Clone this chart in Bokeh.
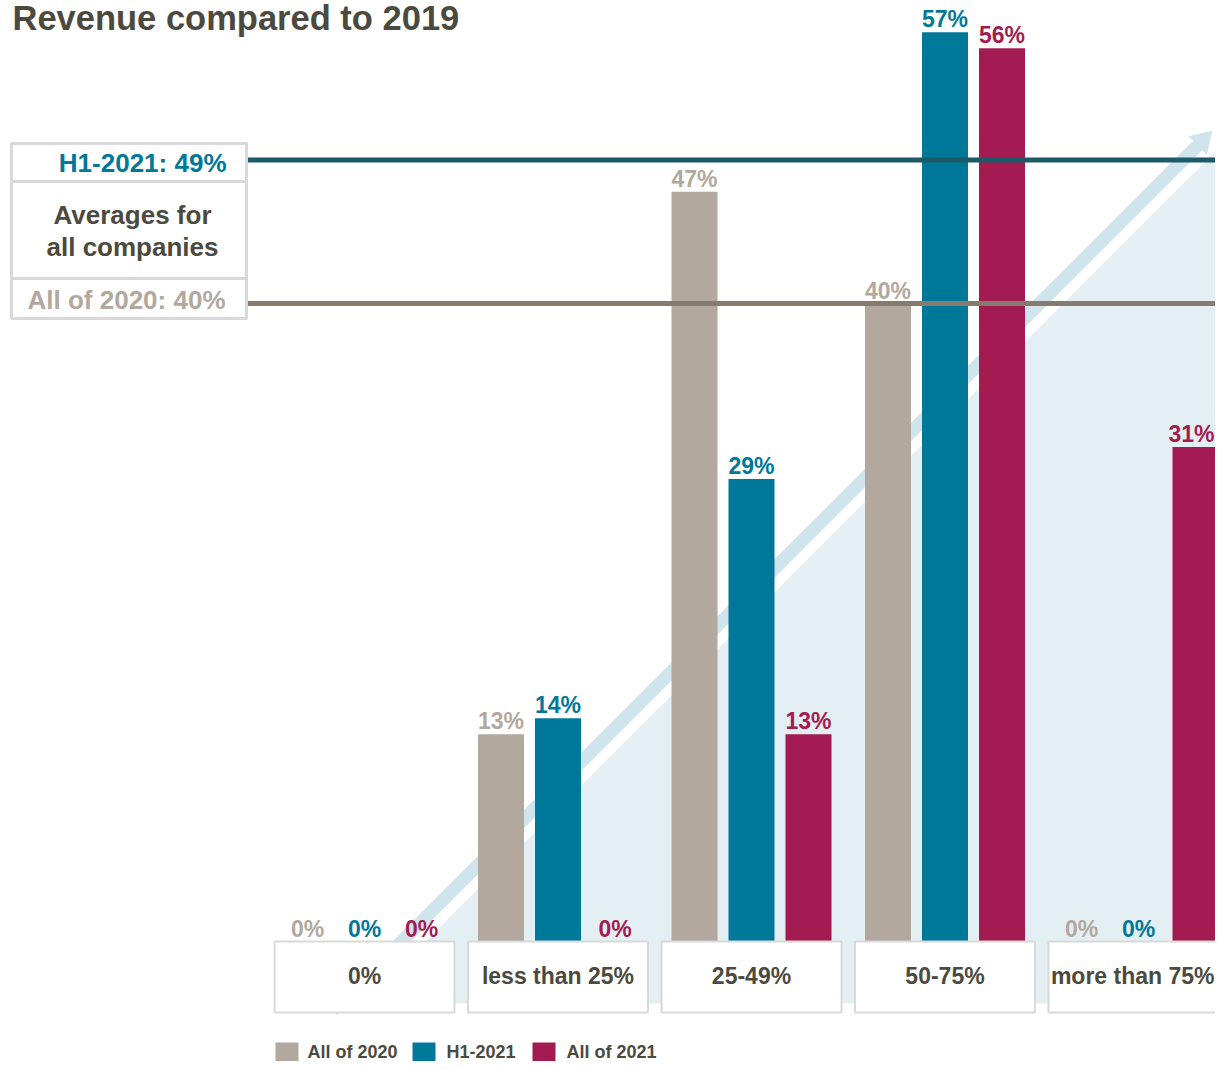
import math
from bokeh.plotting import figure
from bokeh.models import Range1d
from bokeh.embed import file_html
from bokeh.resources import INLINE
from bokeh.core.properties import value

# ---------------- data ----------------
title = "Revenue compared to 2019"
categories = ["0%", "less than 25%", "25-49%", "50-75%", "more than 75%"]
series_names = ["All of 2020", "H1-2021", "All of 2021"]
all_2020 = [0, 13, 47, 40, 0]
h1_2021 = [0, 14, 29, 57, 0]
all_2021 = [0, 0, 13, 56, 31]
avg_h1_2021 = 49
avg_2020 = 40
avg_title = ["Averages for", "all companies"]

# ---------------- style ----------------
C_GRAY = "#b3a89e"
C_BLUE = "#00789a"
C_MAG = "#a31b51"
C_DARK = "#4c4a3f"
C_BORDER = "#d9d9d9"
C_FILL = "#e4eff4"
C_ARROW = "#cfe4ec"
C_LINE_H1 = "#1b5a66"
C_LINE_20 = "#877b70"
FONT = value("Liberation Sans")

W, H = 1215, 1061
GROUP_PX = 193.5       # pixels per category
X0_PX = 364.0          # px of category 0 centre
PCT_PX = 15.95         # pixels per percentage point
BASE_PX = 941.0        # px (from top) of the 0 baseline

p = figure(width=W, height=H, output_backend="svg", toolbar_location=None,
           x_range=Range1d(-X0_PX / GROUP_PX, (W - X0_PX) / GROUP_PX),
           y_range=Range1d(-(H - BASE_PX) / PCT_PX, BASE_PX / PCT_PX),
           min_border=0)
p.axis.visible = False
p.grid.visible = False
p.outline_line_color = None
p.background_fill_color = "white"
p.border_fill_color = "white"


def dx(px_x):
    return (px_x - X0_PX) / GROUP_PX


def dy(px_y):
    return (BASE_PX - px_y) / PCT_PX


# ---------------- background triangle + arrow ----------------
p.patch([dx(363), dx(1218), dx(1218)], [dy(1003), dy(1003), dy(148)],
        fill_color=C_FILL, line_color=None)

tip = (1212.0, 130.0)
u = (1 / math.sqrt(2), -1 / math.sqrt(2))
n = (1 / math.sqrt(2), 1 / math.sqrt(2))
head_len, head_hw, shaft_hw = 21.0, 13.0, 6.5
B = (tip[0] - head_len * u[0], tip[1] - head_len * u[1])
S = (1342.0 - 1010.0, 1010.0)
pts = [
    (S[0] + shaft_hw * n[0], S[1] + shaft_hw * n[1]),
    (B[0] + shaft_hw * n[0], B[1] + shaft_hw * n[1]),
    (B[0] + head_hw * n[0], B[1] + head_hw * n[1]),
    tip,
    (B[0] - head_hw * n[0], B[1] - head_hw * n[1]),
    (B[0] - shaft_hw * n[0], B[1] - shaft_hw * n[1]),
    (S[0] - shaft_hw * n[0], S[1] - shaft_hw * n[1]),
]
p.patch([dx(a) for a, b in pts], [dy(b) for a, b in pts], fill_color=C_ARROW, line_color=None)

# ---------------- bars ----------------
offs = [-57 / GROUP_PX, 0, 57 / GROUP_PX]
bw = 46 / GROUP_PX
series = [all_2020, h1_2021, all_2021]
colors = [C_GRAY, C_BLUE, C_MAG]
for vals, off, col in zip(series, offs, colors):
    xs = [i + off for i in range(len(categories))]
    p.vbar(x=xs, top=vals, width=bw, bottom=0, fill_color=col, line_color=None)

# ---------------- average lines ----------------
p.segment(x0=[dx(246)], x1=[dx(1230)], y0=[avg_h1_2021], y1=[avg_h1_2021],
          line_color=C_LINE_H1, line_width=5)
p.segment(x0=[dx(246)], x1=[dx(1230)], y0=[avg_2020], y1=[avg_2020],
          line_color=C_LINE_20, line_width=5)

# ---------------- value labels ----------------
gap = 13 / PCT_PX
x_max = dx(1214) - 23 / GROUP_PX   # keep the right-most label inside the page
for vals, off, col in zip(series, offs, colors):
    xs = [min(i + off, x_max) for i in range(len(categories))]
    p.text(x=xs, y=[v + gap for v in vals], text=[f"{v}%" for v in vals],
           text_align="center", text_baseline="alphabetic", text_color=col,
           text_font=FONT, text_font_style="bold", text_font_size="23px")

# ---------------- category boxes ----------------
hw = 90 / GROUP_PX
cx = list(range(len(categories)))
p.quad(left=[c - hw for c in cx], right=[c + hw for c in cx],
       top=[0] * len(cx), bottom=[dy(1012)] * len(cx),
       fill_color="white", line_color=C_BORDER, line_width=2)
p.text(x=cx[:-1], y=[dy(975)] * (len(cx) - 1), text=categories[:-1], text_align="center",
       text_baseline="middle", text_color=C_DARK, text_font=FONT,
       text_font_style="bold", text_font_size="23px")
p.text(x=[dx(1214)], y=[dy(975)], text=categories[-1:], text_align="right",
       text_baseline="middle", text_color=C_DARK, text_font=FONT,
       text_font_style="bold", text_font_size="23px")

# ---------------- left panel ----------------
p.quad(left=[dx(11)] * 3, right=[dx(246)] * 3,
       top=[dy(143), dy(181), dy(278)], bottom=[dy(181), dy(278), dy(318)],
       fill_color="white", line_color=C_BORDER, line_width=3)
p.text(x=[dx(226)], y=[dy(162)], text=[f"H1-2021: {avg_h1_2021}%"], text_align="right",
       text_baseline="middle", text_color=C_BLUE, text_font=FONT,
       text_font_style="bold", text_font_size="26px")
p.text(x=[dx(132), dx(132)], y=[dy(214), dy(246)], text=avg_title, text_align="center",
       text_baseline="middle", text_color=C_DARK, text_font=FONT,
       text_font_style="bold", text_font_size="26px")
p.text(x=[dx(225)], y=[dy(299)], text=[f"All of 2020: {avg_2020}%"], text_align="right",
       text_baseline="middle", text_color=C_GRAY, text_font=FONT,
       text_font_style="bold", text_font_size="26px")

# ---------------- title ----------------
p.text(x=[dx(12)], y=[dy(17)], text=[title], text_align="left",
       text_baseline="middle", text_color=C_DARK, text_font=FONT,
       text_font_style="bold", text_font_size="34.5px")

# ---------------- legend ----------------
sq_left = [275, 412, 532]
txt_left = [307, 446, 566]
p.quad(left=[dx(a) for a in sq_left], right=[dx(a + 23) for a in sq_left],
       top=[dy(1042)] * 3, bottom=[dy(1061)] * 3, fill_color=colors, line_color=None)
p.text(x=[dx(a) for a in txt_left], y=[dy(1051)] * 3, text=series_names,
       text_align="left", text_baseline="middle", text_color=C_DARK, text_font=FONT,
       text_font_style="bold", text_font_size="18px")

open("out.html", "w").write(file_html(p, INLINE))
